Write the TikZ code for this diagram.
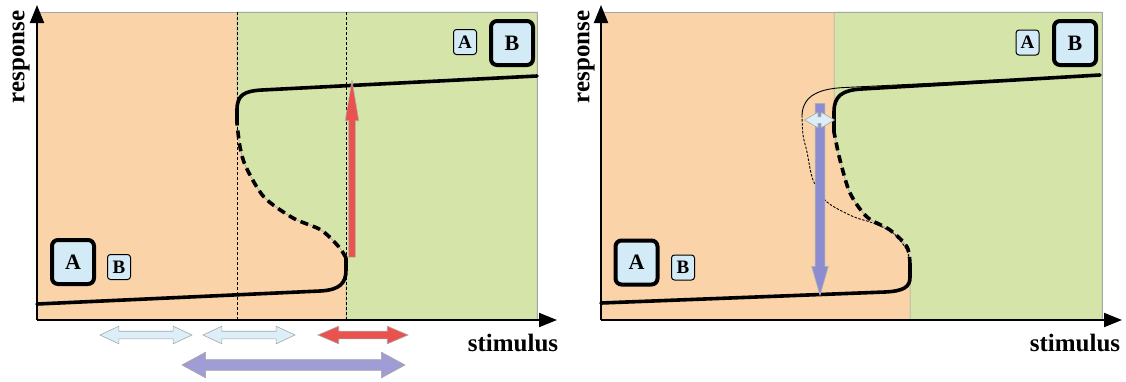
\documentclass[tikz,border=0pt]{standalone}
\usepackage{fontspec}
\setmainfont{Liberation Serif}
\usetikzlibrary{arrows.meta,shapes.arrows}
\definecolor{lowbg}{HTML}{FAD3A9}
\definecolor{highbg}{HTML}{D5E4A8}
\definecolor{boxfill}{HTML}{D3EAF7}
\definecolor{jumpred}{HTML}{E9524D}
\definecolor{spanblue}{HTML}{DCEEF8}
\definecolor{spanpurple}{HTML}{A09CD6}
\definecolor{droppurple}{HTML}{8C8DD1}
\tikzset{
  axis/.style={line width=2pt, -{Triangle[length=18pt,width=14pt]}},
  branch/.style={line width=3.6pt, line cap=round},
  unstable/.style={line width=3.6pt, dash pattern=on 8pt off 5pt},
  guide/.style={line width=0.7pt, dash pattern=on 3pt off 2pt},
  bigbox/.style={draw, line width=4pt, rounded corners=6pt, fill=boxfill, minimum width=42pt, minimum height=44pt, inner sep=0pt, font=\fontsize{22}{22}\selectfont\bfseries},
  smallbox/.style={draw, line width=1pt, rounded corners=3pt, fill=boxfill, minimum width=23pt, minimum height=25pt, inner sep=0pt, font=\fontsize{19}{19}\selectfont\bfseries},
  axislabel/.style={font=\fontsize{25}{25}\selectfont\bfseries},
  span/.style={double arrow, draw=gray!70, line width=0.6pt, inner xsep=0pt, inner ysep=3.5pt, double arrow head extend=5pt, double arrow tip angle=50},
  bolt/.style={single arrow, draw=gray!60, line width=0.6pt, inner xsep=0pt},
}
\begin{document}
\begin{tikzpicture}[x=1pt, y=-1pt]
  \useasboundingbox (0,0) rectangle (1126,381);
  % left panel: hysteresis
  \fill[lowbg] (37,12) rectangle (537,320);
  \filldraw[highbg, draw=gray!80, line width=0.5pt] (537,12) -- (237,12) -- (237,123)
    -- plot[smooth] coordinates {(237,123) (240,147) (246,167) (264,197) (293,218) (321,230) (339,247) (346,258)}
    -- (346,320) -- (537,320) -- cycle;
  \draw[gray!70, line width=0.6pt] (37,12) rectangle (537,320);
  \draw[guide] (237,12) -- (237,320);
  \draw[guide] (346,12) -- (346,320);
  \draw[branch] (37,304) -- (320,291) .. controls (340,290) and (346,283) .. (346,270) -- (346,258);
  \draw[unstable] plot[smooth] coordinates {(346,258) (339,247) (321,230) (293,218) (264,197) (246,167) (240,147) (237,123)};
  \draw[branch] (237,123) -- (237,110) .. controls (237,95) and (244,91) .. (262,90) -- (537,76);
  \node[bolt, fill=jumpred, rotate=90, minimum height=177pt, inner ysep=3pt, single arrow head extend=3.5pt, single arrow tip angle=19] (jump) at (352,178.5) {};
  \node[bigbox] (lowA) at (73,262) {A};
  \node[smallbox] (lowB) at (119,267) {B};
  \node[smallbox] (highA) at (465,42) {A};
  \node[bigbox] (highB) at (512,43) {B};
  \coordinate (O1) at (37,320);
  \draw[axis] (O1) -- (37,5);
  \draw[axis] (O1) -- (557,320);
  \node[axislabel, rotate=90] (resp1) at (21,57) {response};
  \node[axislabel] (stim1) at (513,343) {stimulus};
  \foreach \cx in {146,249}
    \node[span, fill=spanblue, minimum height=92pt] (rest\cx) at (\cx,335) {};
  \node[span, fill=jumpred, minimum height=90pt, double arrow tip angle=46] (jumprange) at (363,335) {};
  \node[span, fill=spanpurple, minimum height=223pt, inner ysep=5pt, double arrow head extend=7.5pt, double arrow tip angle=57] (bistrange) at (293.5,365) {};

  % right panel: shifted branch
  \fill[lowbg] (601,12) rectangle (1102,320);
  \filldraw[highbg, draw=gray!80, line width=0.5pt] (1102,12) -- (834,12) -- (834,132)
    -- plot[smooth] coordinates {(834,132) (835,137) (840,160) (850,193) (867,217) (890,230) (907,247) (910,263)}
    -- (910,320) -- (1102,320) -- cycle;
  \draw[gray!70, line width=0.6pt] (601,12) rectangle (1102,320);
  \draw[line width=0.9pt] (1100,75) -- (845,87.5) .. controls (820,88.5) and (803,95) .. (802,115);
  \draw[line width=0.9pt, dash pattern=on 2.5pt off 1.5pt] plot[smooth] coordinates {(802,115) (803,135) (807,152) (813,180) (827,202) (853,216.5) (873,223) (893,233) (906.7,250) (910,266)};
  \draw[branch] (601,303) -- (885,292) .. controls (904,291) and (910,287) .. (910,277) -- (910,265);
  \draw[unstable] plot[smooth] coordinates {(910,265) (907,247) (890,230) (867,217) (850,193) (840,160) (835,137) (834,132)};
  \draw[branch] (834,132) -- (834,112) .. controls (834,96) and (842,90) .. (862,89) -- (1100,75);
  \node[bolt, fill=droppurple, rotate=-90, minimum height=192pt, inner ysep=4.5pt, single arrow head extend=3.5pt, single arrow tip angle=32] (drop) at (820,191) {};
  \node[span, fill=spanblue, minimum height=30pt, inner ysep=3pt, double arrow head extend=4.5pt, double arrow tip angle=60] (shift) at (819.5,120) {};
  \node[bigbox] (lowA2) at (636.5,262.5) {A};
  \node[smallbox] (lowB2) at (683,267.5) {B};
  \node[smallbox] (highA2) at (1027.5,42.5) {A};
  \node[bigbox] (highB2) at (1075,43) {B};
  \coordinate (O2) at (601,320);
  \draw[axis] (O2) -- (601,5);
  \draw[axis] (O2) -- (1122,320);
  \node[axislabel, rotate=90] (resp2) at (586,57) {response};
  \node[axislabel] (stim2) at (1075,343) {stimulus};
\end{tikzpicture}
\end{document}
